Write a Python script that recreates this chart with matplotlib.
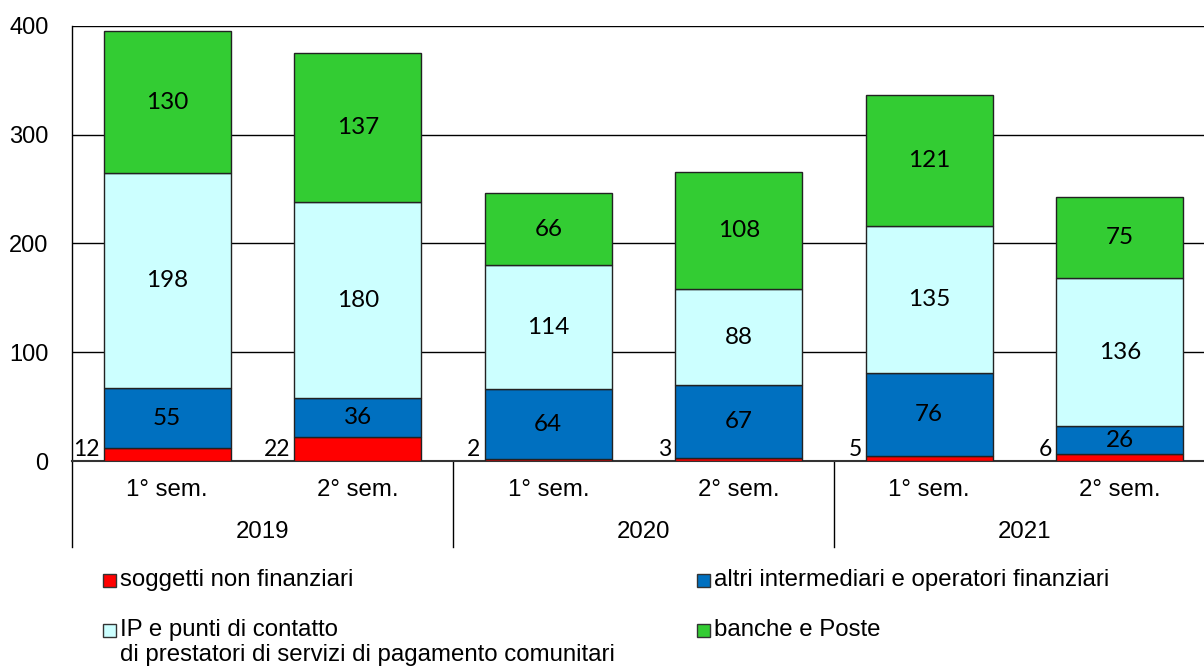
import matplotlib.pyplot as plt
from matplotlib.patches import Rectangle
import numpy as np

plt.rcParams['font.family'] = ['Liberation Sans', 'DejaVu Sans']

# dati
periodi = ['1° sem.', '2° sem.', '1° sem.', '2° sem.', '1° sem.', '2° sem.']
anni = ['2019', '2020', '2021']
non_finanziari = [12, 22, 2, 3, 5, 6]
altri_intermediari = [55, 36, 64, 67, 76, 26]
ip_punti_contatto = [198, 180, 114, 88, 135, 136]
banche_poste = [130, 137, 66, 108, 121, 75]

serie = [non_finanziari, altri_intermediari, ip_punti_contatto, banche_poste]
colori = ['#FF0000', '#0070C0', '#CCFFFF', '#33CC33']
etichette = ['soggetti non finanziari',
             'altri intermediari e operatori finanziari',
             'IP e punti di contatto\ndi prestatori di servizi di pagamento comunitari',
             'banche e Poste']

W, H = 1204, 666
fig = plt.figure(figsize=(W / 100, H / 100), dpi=100)
ax = fig.add_axes([72 / W, 205 / H, 1143 / W, 435 / H])

x = np.arange(len(periodi))
larg = 0.667
base = np.zeros(len(periodi))
for k, (vals, col) in enumerate(zip(serie, colori)):
    vals = np.array(vals)
    ax.bar(x, vals, larg, bottom=base, color=col, edgecolor='#222222',
           linewidth=1, zorder=3)
    for i, v in enumerate(vals):
        if k == 0:
            ax.annotate(str(v), (x[i] - larg / 2, 0), xytext=(-3, 1),
                        textcoords='offset points', ha='right', va='bottom',
                        fontsize=16.5, family='Lato')
        else:
            ax.text(x[i], base[i] + v / 2, str(v), ha='center', va='center',
                    fontsize=17.5, family='Lato', zorder=4)
    base += vals

ax.set_xlim(-0.5, 5.5)
ax.set_ylim(0, 400)
ax.set_yticks([0, 100, 200, 300, 400])
ax.tick_params(axis='y', length=0, pad=17, labelsize=17)
ax.set_xticks([])
ax.grid(axis='y', color='black', linewidth=1, zorder=0)
for s in ['top', 'right']:
    ax.spines[s].set_visible(False)
ax.spines['bottom'].set_color('#333333')
ax.spines['bottom'].set_linewidth(1.5)
ax.spines['left'].set_linewidth(1)

# asse delle categorie
trans = ax.get_xaxis_transform()
for i, p in enumerate(periodi):
    ax.text(x[i], -0.067, p, transform=trans, ha='center', va='center', fontsize=17.3)
for j, a in enumerate(anni):
    ax.text(2 * j + 0.5, -0.163, a, transform=trans, ha='center', va='center', fontsize=17.3)
for xs in [-0.5, 1.5, 3.5, 5.5]:
    ax.plot([xs, xs], [0, -0.198], transform=trans, color='black',
            linewidth=1, clip_on=False)

# legenda
pos = [(103, 580), (697, 580), (103, 630), (697, 630)]
for (px, py), col, lab in zip(pos, colori, etichette):
    fig.patches.append(Rectangle((px / W, (H - py - 6.5) / H), 13 / W, 13 / H,
                                 facecolor=col, edgecolor='#333333', linewidth=1,
                                 transform=fig.transFigure, figure=fig))
    righe = lab.split('\n')
    for r, testo in enumerate(righe):
        fig.text((px + 17) / W, (H - py - 25 * r) / H, testo, ha='left',
                 va='center', fontsize=17.3)

fig.savefig('out.png', dpi=100)
